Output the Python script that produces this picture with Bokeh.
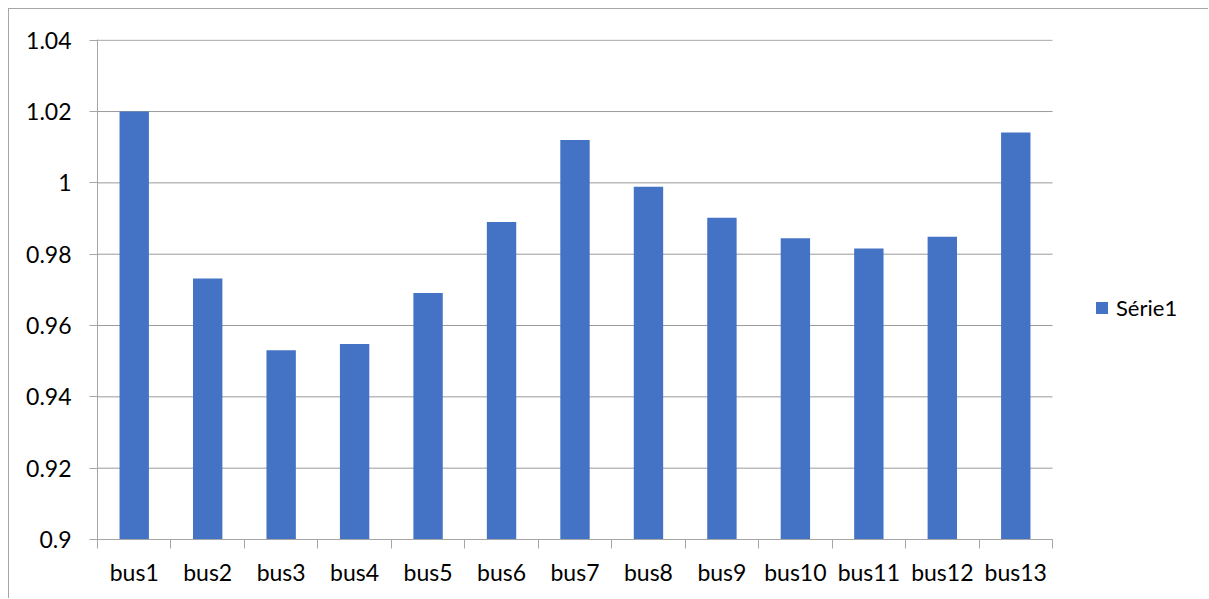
from bokeh.plotting import figure
from bokeh.models import FixedTicker, Range1d, Legend, LegendItem, ColumnDataSource
from bokeh.embed import file_html
from bokeh.resources import INLINE

categories = ["bus1", "bus2", "bus3", "bus4", "bus5", "bus6", "bus7",
              "bus8", "bus9", "bus10", "bus11", "bus12", "bus13"]
values = [1.020, 0.9732, 0.9531, 0.9548, 0.9691, 0.9890, 1.0120,
          0.9989, 0.9902, 0.9845, 0.9816, 0.9849, 1.0141]
series_name = "Série1"
y_ticks = [0.9, 0.92, 0.94, 0.96, 0.98, 1.0, 1.02, 1.04]
y_tick_labels = ["0.9", "0.92", "0.94", "0.96", "0.98", "1", "1.02", "1.04"]

FONT = "Lato"
TXT = "#000000"
BAR = "#4472C4"
GRID = "#9a9a9a"
AXIS = "#a6a6a6"
FRAME_LINE = "#a6a6a6"

W, H = 1200, 590
LEFT, TOP, BOTTOM = 88, 30, 60
CAT_PX = 955  # pixel width of the category area

n = len(categories)
frame_w = W - LEFT
x_end = n * frame_w / CAT_PX
centers = [i + 0.5 for i in range(n)]
src = ColumnDataSource(dict(x=centers, top=values, name=categories))

p = figure(width=W, height=H, output_backend="svg", toolbar_location=None,
           x_range=Range1d(0, x_end), y_range=Range1d(0.9, 1.0402),
           min_border_left=LEFT, min_border_right=0, min_border_top=TOP, min_border_bottom=BOTTOM,
           background_fill_color="white", border_fill_color="white")
p.styles = {"margin-left": "8px", "margin-top": "8px",
            "border-left": f"1px solid {FRAME_LINE}", "border-top": f"1px solid {FRAME_LINE}"}
p.outline_line_color = None

# horizontal gridlines only across the category area
p.segment(x0=0, x1=n, y0=y_ticks, y1=y_ticks, line_color=GRID, line_width=1, level="underlay")

r = p.vbar(x="x", top="top", bottom=0.9, width=0.4, source=src,
           fill_color=BAR, line_color=None)

# x axis: labels at centres, ticks at category boundaries
xa = p.xaxis[0]
xa.bounds = (0, n)
xa.ticker = FixedTicker(ticks=centers, minor_ticks=list(range(n + 1)))
xa.major_label_overrides = {c: lab for c, lab in zip(centers, categories)}
xa.major_tick_out = 0
xa.major_tick_in = 0
xa.minor_tick_out = 9
xa.minor_tick_in = 0
xa.minor_tick_line_color = AXIS
xa.axis_line_color = AXIS
xa.major_label_text_font = FONT
xa.major_label_text_font_size = "23px"
xa.major_label_text_color = TXT
xa.major_label_standoff = 9

ya = p.yaxis[0]
ya.ticker = FixedTicker(ticks=y_ticks, minor_ticks=[])
ya.major_label_overrides = {t: lab for t, lab in zip(y_ticks, y_tick_labels)}
ya.major_tick_out = 8
ya.major_tick_in = 0
ya.major_tick_line_color = AXIS
ya.axis_line_color = AXIS
ya.major_label_text_font = FONT
ya.major_label_text_font_size = "23px"
ya.major_label_text_color = TXT
ya.major_label_standoff = 18

p.xgrid.grid_line_color = None
p.ygrid.grid_line_color = None

legend = Legend(items=[LegendItem(label=series_name, renderers=[r])],
                location=(997, 218), orientation="vertical",
                glyph_width=15, glyph_height=15, label_standoff=7,
                label_text_font=FONT, label_text_font_size="22px", label_text_color=TXT,
                border_line_color=None, background_fill_alpha=0,
                margin=0, padding=0, spacing=0)
p.add_layout(legend, "center")

open("out.html", "w").write(file_html(p, INLINE))
